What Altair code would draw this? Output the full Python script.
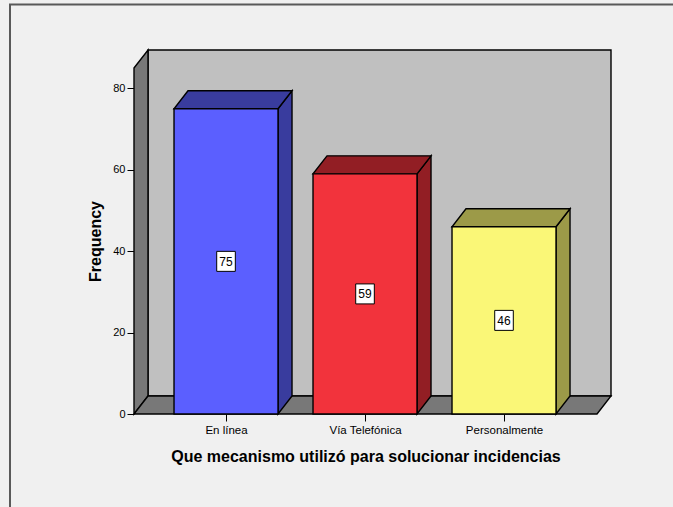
import json
import altair as alt
import pandas as pd

# ---- data ----
categories = ["En línea", "Vía Telefónica", "Personalmente"]
counts = [75, 59, 46]
front_colors = ["#5B5FFF", "#F2333C", "#FAF777"]
shade_colors = ["#393C9E", "#921E24", "#9C9A48"]
y_ticks = [0, 20, 40, 60, 80]

x_title = "Que mecanismo utilizó para solucionar incidencias"
y_title = "Frequency"

# ---- layout constants ----
W, H = 463, 346
X_MIN, X_MAX = -0.662, 2.669
Y_MAX = 85
PX_X = W / (X_MAX - X_MIN)
PX_Y = H / Y_MAX
DX = 14 / PX_X          # 3D depth, horizontal (in x units)
DY = 18 / PX_Y          # 3D depth, vertical (in y units)
HALF = 52 / PX_X        # half bar width
FONT = "Liberation Sans"
EDGE = "#000000"
SW = 1.4

xs = alt.Scale(domain=[X_MIN, X_MAX], nice=False, zero=False)
ys = alt.Scale(domain=[0, Y_MAX], nice=False, zero=False)

label_expr = json.dumps(categories, ensure_ascii=False) + "[datum.value]"
x_axis = alt.Axis(
    values=[0, 1, 2], labelExpr=label_expr, title=x_title, grid=False,
    domain=False, tickSize=7, tickColor="black", tickWidth=1,
    labelPadding=3, labelFont=FONT, labelFontSize=11.5, labelColor="black",
    labelOverlap=False, labelFlush=False,
    titleFont=FONT, titleFontSize=16, titleFontWeight="bold",
    titleColor="black", titleBaseline="alphabetic", titleY=47,
)
y_axis = alt.Axis(
    values=y_ticks, title=y_title, grid=False, domain=False,
    tickSize=7, tickColor="black", tickWidth=1, labelPadding=2,
    labelFont=FONT, labelFontSize=11, labelColor="black",
    titleFont=FONT, titleFontSize=16, titleFontWeight="bold",
    titleColor="black", titleBaseline="alphabetic", titleX=-34,
    titleAngle=-90,
)

# ---- geometry tables built from the arrays ----
back = pd.DataFrame({"x": [X_MIN + DX], "x2": [X_MAX + DX],
                     "y": [DY], "y2": [Y_MAX + DY]})
left_wall = pd.DataFrame({"x": [X_MIN, X_MIN + DX],
                          "y": [Y_MAX, Y_MAX + DY], "y2": [0, DY]})
floor = pd.DataFrame({"y": [0, DY], "x": [X_MIN, X_MIN + DX],
                      "x2": [X_MAX, X_MAX + DX]})

fronts, sides, tops = [], [], []
for i, (c, v, fc, sc) in enumerate(zip(categories, counts, front_colors, shade_colors)):
    L, R = i - HALF, i + HALF
    fronts.append({"cat": c, "x": L, "x2": R, "y": 0, "y2": v, "col": fc,
                   "xc": i, "ym": v / 2, "label": str(v)})
    sides.append({"cat": c, "x": R, "y": v, "y2": 0, "col": sc})
    sides.append({"cat": c, "x": R + DX, "y": v + DY, "y2": DY, "col": sc})
    tops.append({"cat": c, "y": v, "x": L, "x2": R, "col": sc})
    tops.append({"cat": c, "y": v + DY, "x": L + DX, "x2": R + DX, "col": sc})
fronts = pd.DataFrame(fronts)
sides = pd.DataFrame(sides)
tops = pd.DataFrame(tops)

X = lambda f="x": alt.X(f"{f}:Q", scale=xs, axis=x_axis, stack=None)
Y = lambda f="y": alt.Y(f"{f}:Q", scale=ys, axis=y_axis, stack=None)

back_l = alt.Chart(back).mark_rect(fill="#C0C0C0", stroke=EDGE, strokeWidth=SW).encode(
    x=X(), x2="x2:Q", y=Y(), y2="y2:Q")
left_l = alt.Chart(left_wall).mark_area(fill="#787878", stroke=EDGE, strokeWidth=SW,
                                        opacity=1).encode(
    x=X(), y=Y(), y2="y2:Q")
floor_l = alt.Chart(floor).mark_area(orient="horizontal", fill="#787878", stroke=EDGE,
                                     strokeWidth=SW, opacity=1).encode(
    y=Y(), x=X(), x2="x2:Q")
side_l = alt.Chart(sides).mark_area(stroke=EDGE, strokeWidth=SW, opacity=1).encode(
    x=X(), y=Y(), y2="y2:Q", detail="cat:N",
    color=alt.Color("col:N", scale=None))
top_l = alt.Chart(tops).mark_area(orient="horizontal", stroke=EDGE, strokeWidth=SW,
                                  opacity=1).encode(
    y=Y(), x=X(), x2="x2:Q", detail="cat:N",
    color=alt.Color("col:N", scale=None))
front_l = alt.Chart(fronts).mark_rect(stroke=EDGE, strokeWidth=SW).encode(
    x=X(), x2="x2:Q", y=Y(), y2="y2:Q",
    color=alt.Color("col:N", scale=None))
box_l = alt.Chart(fronts).mark_point(
    shape="M-0.93,-1H0.93V1H-0.93Z", size=400, filled=True, fill="white",
    stroke="black", strokeWidth=1, opacity=1).encode(
    x=X("xc"), y=Y("ym"))
text_l = alt.Chart(fronts).mark_text(font=FONT, fontSize=12, color="black",
                                     baseline="middle", align="center", dy=0.5).encode(
    x=X("xc"), y=Y("ym"), text="label:N")
frame_l = alt.Chart(back).mark_rect(fill="transparent", stroke="#595959",
                                    strokeWidth=2).encode(
    x=alt.value(-124), x2=alt.value(900), y=alt.value(-63.5), y2=alt.value(900))

chart = alt.layer(back_l, left_l, floor_l, side_l, top_l, front_l, box_l, text_l,
                  frame_l).properties(
    width=W, height=H,
    autosize=alt.AutoSizeParams(type="none"),
    padding={"left": 134, "top": 68, "right": 673 - 134 - W, "bottom": 507 - 68 - H},
    background="#F0F0F0",
).configure_view(stroke=None)

chart.save("out.html", embed_options={"renderer": "svg", "actions": False})
